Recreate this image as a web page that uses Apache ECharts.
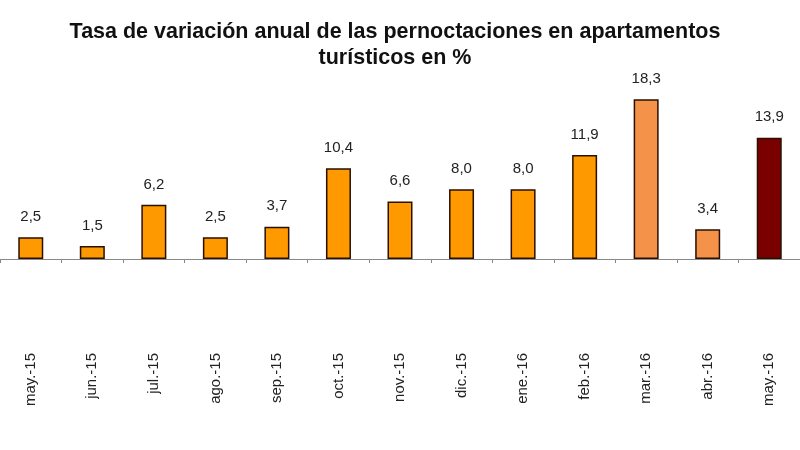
<!DOCTYPE html>
<html><head><meta charset="utf-8">
<script src="https://cdn.jsdelivr.net/npm/echarts@6/dist/echarts.min.js"></script>
<style>html,body{margin:0;padding:0;background:#fff}#c{width:800px;height:450px}</style>
</head><body><div id="c"></div>
<script>
const categories = ["may.-15","jun.-15","jul.-15","ago.-15","sep.-15","oct.-15","nov.-15","dic.-15","ene.-16","feb.-16","mar.-16","abr.-16","may.-16"];
const values = [2.5,1.5,6.2,2.5,3.7,10.4,6.6,8.0,8.0,11.9,18.3,3.4,13.9];
const barColors = ["#FF9900","#FF9900","#FF9900","#FF9900","#FF9900","#FF9900","#FF9900","#FF9900","#FF9900","#FF9900","#F39248","#F39248","#7A0000"];
const titleText = "Tasa de variación anual de las pernoctaciones en apartamentos\nturísticos en %";

const chart = echarts.init(document.getElementById('c'), null, {renderer:'canvas'});
chart.setOption({
  backgroundColor:'#ffffff',
  animation:false,
  title:{text:titleText,left:390,textAlign:'center',top:14,
    textStyle:{fontFamily:'Liberation Sans, Arial',fontWeight:'bold',fontSize:21.5,color:'#111',lineHeight:26}},
  grid:{left:-1,right:-1,top:84.4,bottom:191},
  xAxis:{type:'category',data:categories,
    axisLine:{show:true,lineStyle:{color:'#888',width:1}},
    axisTick:{show:true,length:4,lineStyle:{color:'#888'}},
    axisLabel:{rotate:90,margin:94,fontFamily:'Liberation Sans, Arial',fontSize:15,color:'#222'}},
  yAxis:{type:'value',min:0,max:20,show:false,splitLine:{show:false}},
  series:[{type:'bar',barWidth:25,
    data:values.map((v,i)=>({value:v,itemStyle:{color:barColors[i]}})),
    itemStyle:{borderColor:'#2a1000',borderWidth:1.5},
    label:{show:true,position:'top',distance:13,fontFamily:'Liberation Sans, Arial',fontSize:15,color:'#222',
      formatter:p=>p.value.toFixed(1).replace('.',',')}}]
});
</script></body></html>
